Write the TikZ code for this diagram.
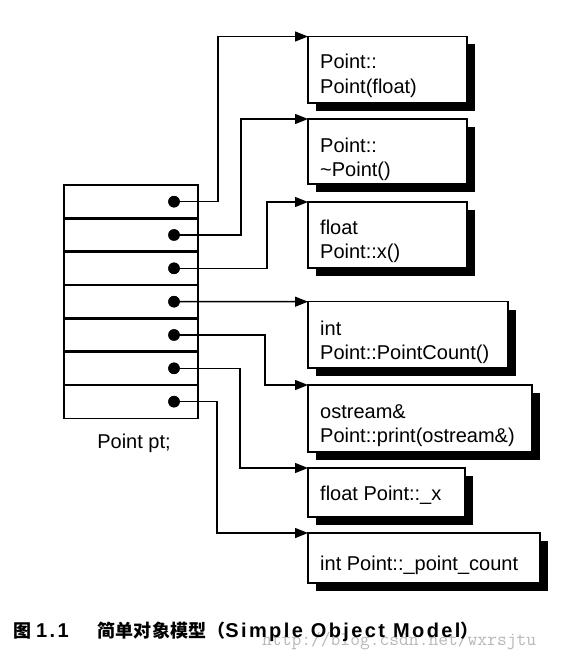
\documentclass[tikz,border=0pt]{standalone}
\usepackage{fontspec}
\setmainfont{Liberation Sans}
\newfontfamily\cjkfont{Noto Sans CJK SC}[LetterSpace=2]
\newfontfamily\capfont{Liberation Sans}[LetterSpace=12]
\usetikzlibrary{arrows.meta,shadows,calc}
\begin{document}
\begin{tikzpicture}[x=1pt,y=-1pt,
  fnbox/.style={draw, line width=1.4pt, fill=white, anchor=north west, inner sep=0pt, outer sep=0pt,
    general shadow={fill=black, shadow xshift=8pt, shadow yshift=-8pt}},
  rowbox/.style={draw, line width=1.4pt, anchor=north west, inner sep=0pt, outer sep=0pt,
    minimum width=134pt, minimum height=33.33pt},
  sepline/.style={line width=2.8pt},
  dot/.style={circle, fill=black, inner sep=0pt, minimum size=11.5pt},
  conn/.style={line width=1.4pt, -{Triangle[length=13pt,width=10pt]}},
  txt/.style={anchor=base west, inner sep=0pt, font=\fontsize{20}{24}\selectfont},
  captxt/.style={anchor=base west, inner sep=0pt}]
\useasboundingbox (0,0) rectangle (561,661);
\fill[white] (0,0) rectangle (561,661);

% object rows
\foreach \i in {1,...,7}{
  \node[rowbox] (r\i) at (64,{185+(\i-1)*33.33}) {};
}
\foreach \i in {1,...,6}{
  \draw[sepline] (r\i.south west) -- (r\i.south east);
}
\foreach \i in {1,...,7}{
  \node[dot] (d\i) at ([xshift=43pt]r\i.center) {};
}
\node[anchor=base, inner sep=0pt, font=\fontsize{20}{24}\selectfont] (pt) at (134,448) {Point pt;};

% function / data boxes
\node[fnbox, minimum width=159pt, minimum height=66.5pt] (b1) at (308,36.5) {};
\node[fnbox, minimum width=159pt, minimum height=65pt] (b2) at (308,119) {};
\node[fnbox, minimum width=159pt, minimum height=66pt] (b3) at (308,202) {};
\node[fnbox, minimum width=200pt, minimum height=66.3pt] (b4) at (308,301.7) {};
\node[fnbox, minimum width=224pt, minimum height=67pt] (b5) at (308,385) {};
\node[fnbox, minimum width=157pt, minimum height=49pt] (b6) at (308,468) {};
\node[fnbox, minimum width=232pt, minimum height=50pt] (b7) at (308,533) {};

\node[txt] (t1a) at (320,69) {Point::};
\node[txt] (t1b) at (320,93) {Point(float)};
\node[txt] (t2a) at (320,152) {Point::};
\node[txt] (t2b) at (320,176) {\textasciitilde Point()};
\node[txt] (t3a) at (320,234) {float};
\node[txt] (t3b) at (320,258) {Point::x()};
\node[txt] (t4a) at (320,335) {int};
\node[txt] (t4b) at (320,359) {Point::PointCount()};
\node[txt] (t5a) at (320,418) {ostream\&};
\node[txt] (t5b) at (320,442) {Point::print(ostream\&)};
\node[txt] (t6) at (320,500) {float Point::\_x};
\node[txt] (t7) at (320,570) {int Point::\_point\_count};

% connectors
\coordinate (v1) at (218,0);
\coordinate (v2) at (241,0);
\coordinate (v3) at (267,0);
\coordinate (v5) at (265,0);
\coordinate (v6) at (240,0);
\coordinate (v7) at (217,0);
\draw[conn] (d1.center) -- (d1.center -| v1) |- (b1.north west);
\draw[conn] (d2.center) -- (d2.center -| v2) |- (b2.north west);
\draw[conn] (d3.center) -- (d3.center -| v3) |- (b3.north west);
\draw[conn] (d4.center) -- (b4.north west);
\draw[conn] (d5.center) -- (d5.center -| v5) |- (b5.north west);
\draw[conn] (d6.center) -- (d6.center -| v6) |- (b6.north west);
\draw[conn] (d7.center) -- (d7.center -| v7) |- (b7.north west);
\foreach \i in {1,...,7}{
  \node[dot] at (d\i.center) {};
}

% watermark and caption
\node[captxt, text=black!28] (wm) at (262,645) {\ttfamily\fontsize{19}{19}\selectfont http://blog.csdn.net/wxrsjtu};
\node[captxt] (c1) at (13,637) {\cjkfont\bfseries\fontsize{18}{18}\selectfont 图};
\node[captxt] (c2) at (36,637) {\capfont\bfseries\fontsize{20}{20}\selectfont 1.1};
\node[captxt] (c3) at (97,637) {\fontsize{18}{18}\selectfont\cjkfont\bfseries 简单对象模型（{\fontsize{20}{20}\selectfont\capfont\bfseries Simple Object Model}）};
\end{tikzpicture}
\end{document}
